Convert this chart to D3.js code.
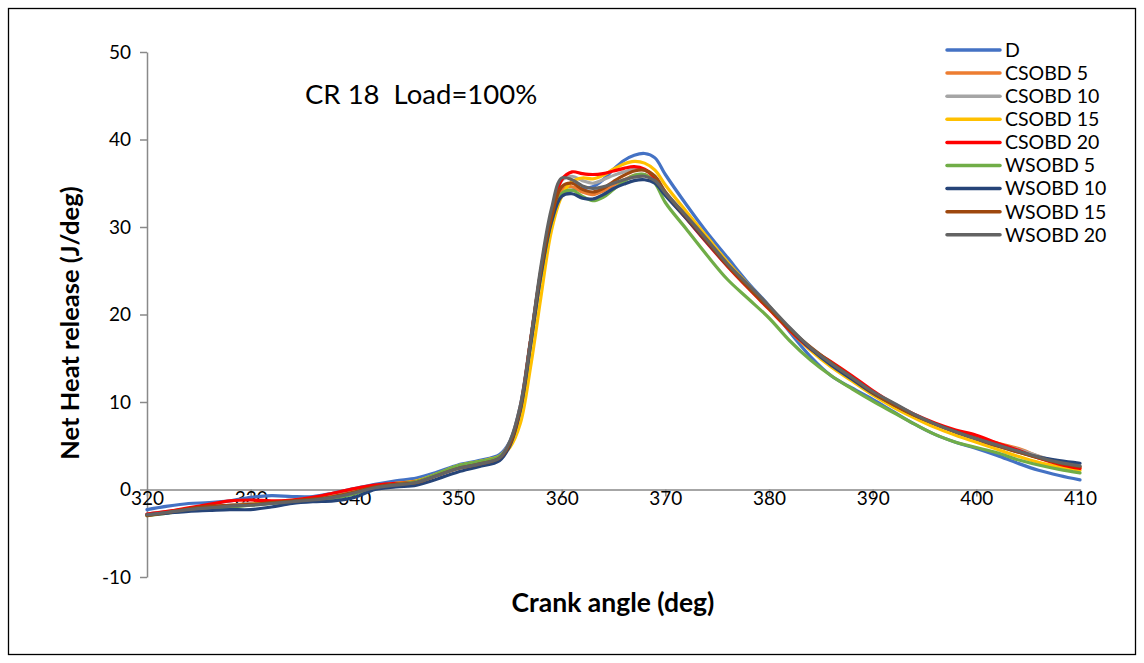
<!DOCTYPE html>
<html>
<head>
<meta charset="utf-8">
<script src="https://cdn.jsdelivr.net/npm/d3@7/dist/d3.min.js"></script>
<style>
  html, body { margin: 0; padding: 0; background: #fff; }
  svg { display: block; font-family: Lato, "Open Sans", sans-serif; }
</style>
</head>
<body>
<svg id="chart" width="1144" height="663"></svg>
<script>
// Crank angle (deg) sample positions shared by all series
const angles = [320,322,324,326,328,330,332,334,336,338,340,342,344,346,348,350,352,354,
  355,356,357,358,359,
  360,361,362,363,364,365,366,367,368,369,370,
  372,374,376,378,380,382,384,386,388,390,392,394,396,398,400,402,404,406,408,410];

// Net heat release (J/deg) for each fuel
const D = [-2.3,-1.9,-1.6,-1.5,-1.3,-0.9,-0.7,-0.8,-0.8,-0.4,0.1,0.6,1.0,1.3,2.0,2.8,3.3,4.0,
  5.5,9.5,17.0,25.0,31.0,
  33.5,34.2,34.4,34.6,35.4,36.6,37.6,38.2,38.4,37.9,36.0,
  32.6,29.4,26.5,23.6,21.0,18.0,15.2,13.0,11.6,10.3,8.9,7.5,6.3,5.4,4.7,3.9,3.0,2.2,1.6,1.1];
const CSOBD5 = [-2.9,-2.6,-2.2,-2.0,-1.8,-1.6,-1.5,-1.3,-1.1,-0.8,-0.3,0.3,0.6,0.9,1.7,2.5,3.0,3.7,
  5.2,9.0,16.5,24.5,30.5,
  34.2,34.6,34.0,33.7,34.1,34.8,35.4,35.9,36.0,35.4,33.8,
  31.2,28.6,25.9,23.3,20.9,18.3,16.1,14.3,12.6,11.0,9.7,8.5,7.5,6.6,5.9,5.3,4.7,3.8,3.0,2.5];
const CSOBD10 = [-2.8,-2.5,-2.2,-2.0,-1.8,-1.6,-1.4,-1.2,-1.0,-0.7,-0.2,0.3,0.7,0.9,1.7,2.6,3.1,3.8,
  5.4,9.5,17.2,25.2,31.5,
  35.3,35.8,35.3,35.0,35.4,35.9,36.3,36.6,36.5,35.7,34.0,
  31.3,28.5,25.8,23.3,20.9,18.3,16.0,14.3,12.7,11.0,9.7,8.5,7.4,6.6,5.8,5.2,4.6,3.8,3.1,2.6];
const CSOBD15 = [-2.9,-2.6,-2.3,-2.1,-1.9,-1.7,-1.5,-1.3,-1.1,-0.8,-0.3,0.3,0.7,1.0,1.8,2.7,3.2,3.8,
  4.8,7.5,14.0,22.0,29.5,
  33.5,35.2,35.6,35.5,35.9,36.6,37.2,37.5,37.3,36.5,34.8,
  31.8,28.9,26.0,23.4,20.9,18.2,15.9,14.0,12.4,10.8,9.4,8.2,7.1,6.2,5.4,4.6,3.8,3.1,2.6,2.2];
const CSOBD20 = [-2.8,-2.5,-2.1,-1.7,-1.3,-1.2,-1.3,-1.2,-0.9,-0.4,0.1,0.5,0.7,0.9,1.7,2.5,3.0,3.7,
  5.3,9.3,17.0,25.0,31.5,
  35.4,36.3,36.1,36.0,36.1,36.4,36.7,36.9,36.6,35.6,33.8,
  31.0,28.2,25.5,23.0,20.6,18.2,16.1,14.6,13.0,11.3,9.8,8.6,7.6,6.8,6.2,5.3,4.5,3.6,2.9,2.4];
const WSOBD5 = [-3.0,-2.7,-2.4,-2.2,-2.0,-1.8,-1.6,-1.4,-1.2,-1.0,-0.5,0.2,0.6,0.9,1.8,2.7,3.2,3.8,
  5.2,9.0,16.5,24.5,30.5,
  33.8,34.2,33.5,33.0,33.4,34.3,35.2,35.9,36.0,35.0,32.8,
  29.8,26.8,24.0,21.8,19.6,17.0,14.8,13.0,11.5,10.1,8.8,7.5,6.3,5.4,4.8,4.2,3.4,2.8,2.3,1.9];
const WSOBD10 = [-2.9,-2.7,-2.5,-2.4,-2.3,-2.3,-2.0,-1.6,-1.4,-1.3,-0.9,0.0,0.3,0.5,1.2,2.0,2.6,3.3,
  5.0,9.0,16.5,24.5,30.5,
  33.5,33.8,33.3,33.2,33.7,34.4,34.9,35.3,35.4,35.0,33.6,
  31.0,28.3,25.6,23.2,20.8,18.4,16.1,14.2,12.6,11.0,9.7,8.5,7.5,6.6,5.8,5.0,4.3,3.7,3.3,3.0];
const WSOBD15 = [-3.0,-2.6,-2.2,-1.9,-1.8,-1.7,-1.5,-1.3,-1.1,-0.8,-0.3,0.3,0.6,0.8,1.6,2.4,2.9,3.6,
  5.2,9.2,17.0,25.0,31.0,
  34.6,35.0,34.3,34.0,34.4,35.2,35.9,36.4,36.5,35.8,34.0,
  31.2,28.4,25.6,23.1,20.7,18.3,16.3,14.5,12.8,11.1,9.7,8.5,7.5,6.6,5.8,5.0,4.3,3.6,3.0,2.6];
const WSOBD20 = [-2.9,-2.6,-2.3,-2.1,-1.9,-1.8,-1.6,-1.4,-1.2,-0.9,-0.4,0.2,0.5,0.8,1.6,2.4,2.9,3.6,
  5.5,9.5,17.0,25.5,32.0,
  35.6,35.4,34.7,34.4,34.6,35.0,35.4,35.7,35.8,35.3,33.9,
  31.3,28.6,25.8,23.4,21.0,18.5,16.2,14.4,12.8,11.2,9.9,8.6,7.5,6.6,5.8,5.1,4.4,3.7,3.1,2.7];

const seriesNames = ["D","CSOBD 5","CSOBD 10","CSOBD 15","CSOBD 20","WSOBD 5","WSOBD 10","WSOBD 15","WSOBD 20"];
const seriesValues = [D, CSOBD5, CSOBD10, CSOBD15, CSOBD20, WSOBD5, WSOBD10, WSOBD15, WSOBD20];
const seriesColors = ["#4472C4","#ED7D31","#A5A5A5","#FFC000","#FF0000","#70AD47","#264478","#9E480E","#636363"];

const xTicks = [320,330,340,350,360,370,380,390,400,410];
const yTicks = [-10,0,10,20,30,40,50];

const svg = d3.select("#chart");
const W = 1144, H = 663;
const FONT = "Lato, sans-serif";

// outer frame
svg.append("rect")
  .attr("x", 8.5).attr("y", 8.5)
  .attr("width", W - 17).attr("height", H - 17)
  .attr("fill", "none").attr("stroke", "#000").attr("stroke-width", 1.3);

const x = d3.scaleLinear().domain([320, 410]).range([147, 1080]);
const y = d3.scaleLinear().domain([-10, 50]).range([577, 52]);

const axisColor = "#898989";
const plainNum = d => String(d);

// y axis on the left edge of the plot
const yAxis = svg.append("g")
  .attr("transform", `translate(${x(320)},0)`)
  .call(d3.axisLeft(y).tickValues(yTicks).tickFormat(plainNum).tickSize(7).tickSizeOuter(0).tickPadding(9));
yAxis.select(".domain").attr("stroke", axisColor).attr("stroke-width", 1.5);
yAxis.selectAll(".tick line").attr("stroke", axisColor).attr("stroke-width", 1.5);
yAxis.selectAll(".tick text")
  .attr("font-family", FONT).attr("font-size", 19).attr("fill", "#000");

// x axis crossing at zero
const xAxis = svg.append("g")
  .attr("transform", `translate(0,${y(0)})`)
  .call(d3.axisBottom(x).tickValues(xTicks).tickFormat(plainNum).tickSize(7).tickSizeOuter(0).tickPadding(-5));
xAxis.select(".domain").attr("stroke", axisColor).attr("stroke-width", 1.5);
xAxis.selectAll(".tick line").attr("stroke", axisColor).attr("stroke-width", 1.5);
xAxis.selectAll(".tick text")
  .attr("font-family", FONT).attr("font-size", 19).attr("fill", "#000");

// heat release curves
const line = d3.line()
  .x((d, i) => x(angles[i]))
  .y(d => y(d))
  .curve(d3.curveCatmullRom.alpha(0.5));

svg.append("g").selectAll("path")
  .data(seriesValues)
  .join("path")
  .attr("d", d => line(d))
  .attr("fill", "none")
  .attr("stroke", (d, i) => seriesColors[i])
  .attr("stroke-width", 3.2)
  .attr("stroke-linejoin", "round")
  .attr("stroke-linecap", "round");

// axis titles
svg.append("text")
  .attr("x", 613).attr("y", 612)
  .attr("text-anchor", "middle")
  .attr("font-family", FONT).attr("font-weight", "bold").attr("font-size", 26.5)
  .text("Crank angle (deg)");

svg.append("text")
  .attr("transform", "translate(79,323) rotate(-90)")
  .attr("text-anchor", "middle")
  .attr("font-family", FONT).attr("font-weight", "bold").attr("font-size", 25.5)
  .text("Net Heat release (J/deg)");

// operating condition note
svg.append("text")
  .attr("x", 305).attr("y", 104)
  .attr("font-family", FONT).attr("font-size", 27.5)
  .attr("xml:space", "preserve")
  .style("white-space", "pre")
  .text("CR 18  Load=100%");

// legend
const legend = svg.append("g");
const lg = legend.selectAll("g")
  .data(seriesNames)
  .join("g")
  .attr("transform", (d, i) => `translate(947,${50 + i * 23.1})`);
lg.append("line")
  .attr("x1", 0).attr("x2", 53)
  .attr("stroke", (d, i) => seriesColors[i])
  .attr("stroke-width", 3.5)
  .attr("stroke-linecap", "round");
lg.append("text")
  .attr("x", 58).attr("dy", "0.35em")
  .attr("font-family", FONT).attr("font-size", 19.5)
  .text(d => d);
</script>
</body>
</html>
